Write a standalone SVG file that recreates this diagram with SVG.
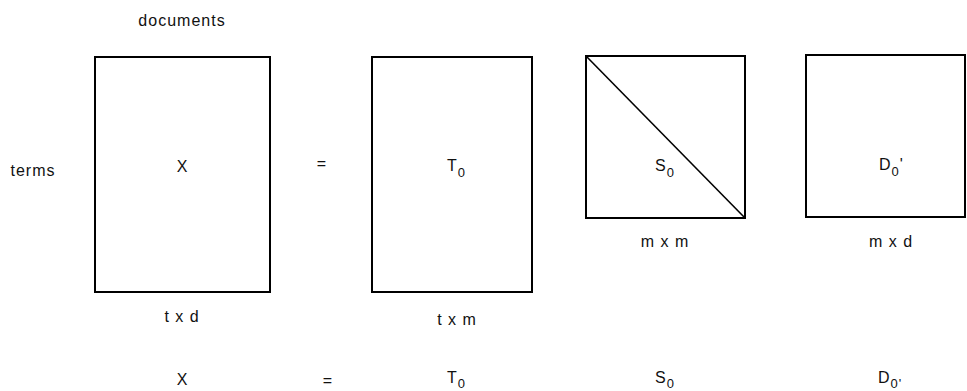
<svg xmlns="http://www.w3.org/2000/svg" width="967" height="391" viewBox="0 0 967 391">
<style>
.box{fill:none;stroke:#000;stroke-width:2}
.diag{fill:none;stroke:#000;stroke-width:1.6}
text{font-family:"Liberation Sans",Arial,sans-serif;font-size:16px;fill:#111;letter-spacing:1px}
.m{text-anchor:middle}
.sub{font-size:13px}
</style>
<rect width="967" height="391" fill="#fff"/>
<g id="labels">
<text class="m" x="182" y="26">documents</text>
<text class="m" x="33" y="176">terms</text>
</g>
<g id="matrix-X">
<rect class="box" x="95" y="57" width="175" height="235"/>
<text class="m" x="182.5" y="172">X</text>
<text class="m" x="182" y="322">t x d</text>
</g>
<g id="equals">
<text class="m" x="322" y="169">=</text>
</g>
<g id="matrix-T0">
<rect class="box" x="372" y="57" width="160" height="235"/>
<text x="447" y="171">T<tspan class="sub" dy="6">0</tspan></text>
<text class="m" x="457" y="325">t x m</text>
</g>
<g id="matrix-S0">
<rect class="box" x="586" y="56" width="159" height="162"/>
<line class="diag" x1="586" y1="56" x2="745" y2="218"/>
<text x="655" y="171">S<tspan class="sub" dy="6">0</tspan></text>
<text class="m" x="665" y="247">m x m</text>
</g>
<g id="matrix-D0">
<rect class="box" x="806" y="55" width="159" height="162"/>
<text x="879" y="170">D<tspan class="sub" dy="6">0</tspan><tspan dy="-6">'</tspan></text>
<text class="m" x="891" y="247">m x d</text>
</g>
<g id="equation">
<text class="m" x="182.5" y="385">X</text>
<text class="m" x="328" y="386">=</text>
<text x="447" y="383">T<tspan class="sub" dy="5">0</tspan></text>
<text x="655" y="383">S<tspan class="sub" dy="5">0</tspan></text>
<text x="878" y="383">D<tspan class="sub" dy="5">0'</tspan></text>
</g>
<g id="connectors"/>
</svg>
